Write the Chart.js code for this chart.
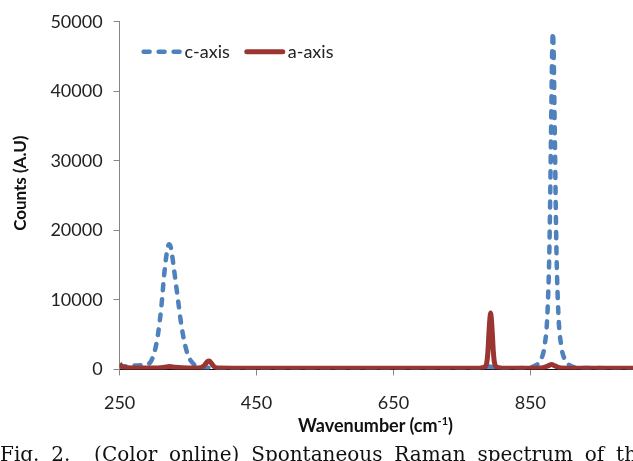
<!DOCTYPE html>
<html>
<head>
<meta charset="utf-8">
<script src="https://cdn.jsdelivr.net/npm/chart.js@4.4.0/dist/chart.umd.min.js"></script>
<style>
html,body{margin:0;padding:0;background:#fff;overflow:hidden}
#wrap{position:relative;width:633px;height:461px;overflow:hidden}
#xtitle{position:absolute;left:118px;width:515px;top:414px;text-align:center;font:bold 18px Lato,sans-serif;color:#111;line-height:22px;white-space:nowrap}
#xtitle sup{font-size:11px;line-height:0}
#caption{position:absolute;left:0;top:442px;font:20px "DejaVu Serif",serif;color:#111;white-space:pre;word-spacing:5.5px;line-height:24px}
</style>
</head>
<body>
<div id="wrap">
<canvas id="raman" width="633" height="461"></canvas>
<div id="xtitle">Wavenumber (cm<sup>-1</sup>)</div>
<div id="caption">Fig. 2.  (Color online) Spontaneous Raman spectrum of the</div>
</div>
<script>
// c-axis spectrum (blue dashed)
const cWave = [250, 265, 280, 290, 296, 301, 306, 311, 315, 319, 322, 325, 328, 332, 336, 340, 345, 350, 356, 364,
  380, 400, 500, 600, 700, 780, 790, 795, 805, 840, 850, 860, 866, 871, 875, 878, 880, 882, 883, 884,
  886, 888, 891, 895, 900, 906, 915, 940, 1000]
const cCounts = [400, 500, 600, 700, 1200, 2500, 5000, 9000, 13500, 16800, 18000, 17500, 15500, 12500, 9500, 6500, 3800, 2000, 1000, 400,
  250, 150, 100, 100, 100, 150, 400, 300, 150, 200, 300, 700, 1500, 3500, 8000, 18000, 32000, 46000, 48500, 46000,
  32000, 18000, 8000, 3500, 1500, 700, 300, 200, 150]

// a-axis spectrum (red solid)
const aWave = [250, 255, 270, 300, 315, 323, 331, 350, 368, 374, 378, 381, 384, 388, 395, 500, 600, 700, 770, 782,
  786, 788, 790, 792, 794, 796, 798, 802, 820, 865, 876, 881, 886, 895, 950, 1000]
const aCounts = [800, 300, 200, 200, 300, 400, 300, 200, 250, 600, 1100, 1200, 900, 400, 200, 150, 150, 150, 150, 300,
  800, 2500, 6000, 8100, 6000, 2500, 800, 300, 150, 200, 500, 700, 500, 200, 150, 150]

const xTicks = [250, 450, 650, 850]
const yTicks = [0, 10000, 20000, 30000, 40000, 50000]

const toPoints = (xs, ys) => xs.map((x, i) => ({x: x, y: ys[i]}))

const insideLegend = {
  id: 'insideLegend',
  afterDraw(chart) {
    const ctx = chart.ctx
    const area = chart.chartArea
    let x = area.left + 24
    const y = area.top + 30
    ctx.save()
    ctx.font = '18px Lato'
    ctx.textBaseline = 'middle'
    chart.data.datasets.forEach(ds => {
      ctx.strokeStyle = ds.borderColor
      ctx.lineWidth = ds.borderWidth
      ctx.lineCap = 'round'
      ctx.setLineDash(ds.borderDash || [])
      ctx.beginPath()
      ctx.moveTo(x, y)
      ctx.lineTo(x + 36, y)
      ctx.stroke()
      ctx.setLineDash([])
      ctx.fillStyle = '#222'
      ctx.fillText(ds.label, x + 41, y)
      x += 41 + ctx.measureText(ds.label).width + 17
    })
    ctx.restore()
  }
}

const tickFont = {family: 'Lato', size: 18}
const titleFont = {family: 'Lato', size: 17, weight: 'bold'}

new Chart(document.getElementById('raman').getContext('2d'), {
  type: 'line',
  data: {
    datasets: [{
      label: 'c-axis',
      data: toPoints(cWave, cCounts),
      borderColor: '#4f81bd',
      borderWidth: 4.5,
      borderDash: [6, 9],
      borderCapStyle: 'round',
      cubicInterpolationMode: 'monotone',
      pointRadius: 0,
      order: 1
    }, {
      label: 'a-axis',
      data: toPoints(aWave, aCounts),
      borderColor: '#9a3532',
      borderWidth: 5,
      cubicInterpolationMode: 'monotone',
      pointRadius: 0,
      order: 0
    }]
  },
  options: {
    responsive: false,
    animation: false,
    layout: {padding: {left: 10, top: 21, right: 0, bottom: 30}},
    scales: {
      x: {
        type: 'linear',
        min: 250,
        max: 1000,
        z: 1,
        border: {color: '#111', width: 1},
        grid: {drawOnChartArea: false, tickLength: 6, color: '#868686'},
        ticks: {padding: 17, color: '#222', font: tickFont, callback: v => String(v)},
        afterBuildTicks: axis => { axis.ticks = xTicks.map(v => ({value: v})) }
      },
      y: {
        min: 0,
        max: 50000,
        border: {color: '#868686', width: 1},
        grid: {drawOnChartArea: false, tickLength: 6, color: '#868686'},
        ticks: {padding: 11, color: '#222', font: tickFont, callback: v => String(v)},
        afterBuildTicks: axis => { axis.ticks = yTicks.map(v => ({value: v})) },
        title: {
          display: true,
          text: '      Counts (A.U)',
          color: '#111',
          font: titleFont,
          padding: {top: 0, bottom: 9}
        }
      }
    },
    plugins: {
      legend: {display: false},
      tooltip: {enabled: false}
    }
  },
  plugins: [insideLegend]
})
</script>
</body>
</html>
